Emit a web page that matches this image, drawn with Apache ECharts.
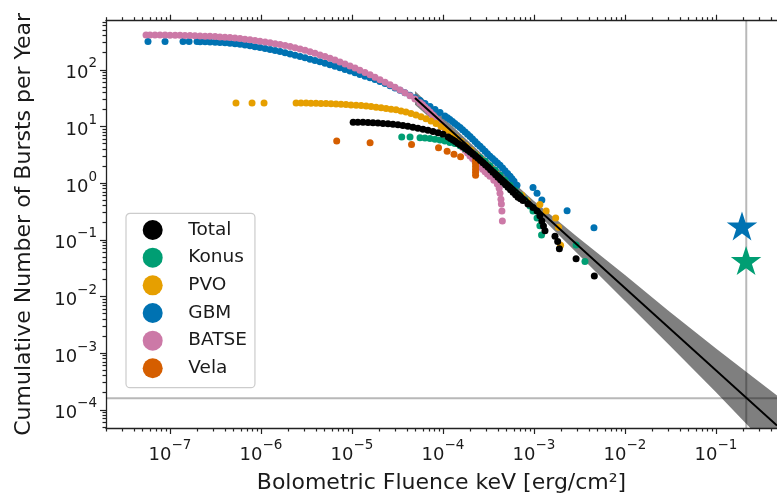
<!DOCTYPE html>
<html><head><meta charset="utf-8">
<script src="https://cdn.jsdelivr.net/npm/echarts@6/dist/echarts.min.js"></script>
<style>html,body{margin:0;padding:0;background:#fff}#c{width:777px;height:499px}</style>
</head><body><div id="c"></div>
<script>
// ---------------- data ----------------
const xMin = 1.98e-8, xMax = 0.468, yMin = 4.77e-5, yMax = 734;
const xMajorTicks = [1e-7, 1e-6, 1e-5, 1e-4, 1e-3, 1e-2, 1e-1];
const yMajorTicks = [1e-4, 1e-3, 1e-2, 1e-1, 1, 10, 100];
const legendNames = ['Total', 'Konus', 'PVO', 'GBM', 'BATSE', 'Vela'];

const batseX = [5.45e-8,6.03e-8,6.84e-8,7.77e-8,8.82e-8,1.00e-7,1.14e-7,1.29e-7,1.46e-7,1.66e-7,1.88e-7,2.14e-7,2.43e-7,2.75e-7,3.13e-7,3.54e-7,4.02e-7,4.56e-7,5.18e-7,5.88e-7,6.67e-7,7.57e-7,8.59e-7,9.75e-7,1.11e-6,1.26e-6,1.43e-6,1.62e-6,1.84e-6,2.09e-6,2.37e-6,2.69e-6,3.05e-6,3.46e-6,3.92e-6,4.45e-6,5.05e-6,5.73e-6,6.50e-6,7.38e-6,8.38e-6,9.51e-6,1.08e-5,1.22e-5,1.39e-5,1.58e-5,1.79e-5,2.03e-5,2.31e-5,2.62e-5,2.97e-5,3.37e-5,3.82e-5,4.34e-5,4.92e-5,5.59e-5,6.34e-5,7.20e-5,8.17e-5,9.27e-5,1.05e-4,1.19e-4,1.35e-4,1.54e-4,1.75e-4,1.98e-4,2.25e-4,2.55e-4,2.90e-4,3.28e-4,3.62e-4,3.95e-4,4.14e-4,4.23e-4,4.33e-4,4.38e-4,4.44e-4,4.49e-4,
  5.96e-5,6.76e-5,7.67e-5,8.71e-5,9.88e-5,1.12e-4,1.27e-4,1.44e-4,1.64e-4,1.86e-4,2.11e-4,2.39e-4,2.72e-4,3.08e-4];
const batseY = [412,412,412,410,410,408,406,405,403,401,398,395,392,389,386,380,376,370,362,355,347,339,329,320,310,300,289,279,267,256,244,232,220,207,195,183,171,159,148,137,126,116,107,98,89.5,81.7,73.9,66.8,60.3,54.6,49.0,43.9,39.2,34.7,30.4,26.3,21.9,18.0,14.4,11.5,9.2,7.4,5.9,4.7,3.8,3.0,2.4,1.94,1.59,1.32,1.12,0.96,0.81,0.665,0.52,0.426,0.321,0.214,
  24.1,19.8,16.1,12.9,10.3,8.26,6.61,5.29,4.24,3.39,2.72,2.17,1.75,1.45];

const gbmX = [5.73e-8,8.82e-8,1.39e-7,1.62e-7,1.98e-7,
  2.14e-7,2.43e-7,2.75e-7,3.13e-7,3.54e-7,4.02e-7,4.56e-7,5.18e-7,5.88e-7,6.67e-7,
  7.57e-7,8.59e-7,9.75e-7,1.11e-6,1.26e-6,1.43e-6,1.62e-6,1.84e-6,2.09e-6,2.37e-6,
  2.69e-6,3.05e-6,3.46e-6,3.92e-6,4.45e-6,5.05e-6,5.73e-6,6.50e-6,7.38e-6,8.38e-6,
  9.51e-6,1.08e-5,1.22e-5,1.39e-5,1.58e-5,1.79e-5,2.03e-5,2.31e-5,2.62e-5,2.97e-5,
  3.37e-5,3.82e-5,4.34e-5,4.92e-5,5.59e-5,6.34e-5,7.20e-5,8.17e-5,9.27e-5,1.05e-4,
  1.19e-4,1.35e-4,1.54e-4,1.75e-4,1.98e-4,2.25e-4,2.55e-4,2.90e-4,3.28e-4,3.73e-4,
  4.23e-4,4.80e-4,5.45e-4,6.03e-4,6.50e-4,
  9.75e-4,1.08e-3,1.22e-3,2.31e-3,4.56e-3,
  1.12e-4,1.27e-4,1.44e-4,1.64e-4,1.86e-4,2.11e-4,2.39e-4,2.72e-4,3.08e-4,3.50e-4,3.97e-4,4.51e-4,5.12e-4,5.73e-4];
const gbmY = [314,314,314,314,314,
  313,311,309,306,303,299,294,289,282,274,
  265,255,246,238,228,219,210,200,190,180,
  171,163,154,146,138,130,122,115,108,101,
  94.9,88.5,82.7,77.2,72.1,67.0,62.3,57.3,52.4,47.7,
  43.3,39.3,35.5,32.0,28.6,25.3,22.4,19.8,17.6,15.2,
  13.2,11.3,9.59,8.00,6.66,5.44,4.45,3.63,2.97,2.47,
  2.06,1.65,1.32,1.08,0.918,
  0.837,0.665,0.501,0.325,0.163,
  14.2,12.2,10.4,8.77,7.31,6.02,4.92,4.02,3.28,2.72,2.26,1.85,1.48,1.19];

const pvoX = [5.31e-7,7.97e-7,1.08e-6,
  2.43e-6,2.75e-6,3.13e-6,3.54e-6,4.02e-6,4.56e-6,5.18e-6,5.88e-6,6.67e-6,7.57e-6,
  8.59e-6,9.75e-6,1.11e-5,1.26e-5,1.43e-5,1.62e-5,1.84e-5,2.09e-5,2.37e-5,2.69e-5,
  3.05e-5,3.46e-5,3.92e-5,4.45e-5,5.05e-5,5.73e-5,6.50e-5,7.38e-5,8.38e-5,9.51e-5,
  1.08e-4,1.22e-4,1.39e-4,1.58e-4,1.79e-4,2.03e-4,2.31e-4,2.62e-4,2.97e-4,3.37e-4,
  3.82e-4,4.34e-4,4.92e-4,
  7.38e-4,8.38e-4,1.16e-3,1.36e-3,1.73e-3,1.86e-3,1.96e-3];
const pvoY = [26.0,26.0,26.0,
  26.0,25.9,25.8,25.7,25.6,25.5,25.3,25.1,24.9,24.6,
  24.3,24.0,23.6,23.3,22.9,22.4,21.9,21.3,20.8,20.2,
  19.6,18.8,17.9,16.9,15.9,14.8,13.6,12.5,11.3,9.97,
  8.66,7.52,6.39,5.44,4.54,3.78,3.15,2.63,2.19,1.83,
  1.49,1.17,0.957,
  0.613,0.491,0.418,0.321,0.242,0.166,0.0802];

const konusX = [3.52e-5,4.34e-5,5.59e-5,6.34e-5,7.20e-5,8.17e-5,9.27e-5,1.05e-4,1.19e-4,1.35e-4,1.54e-4,1.75e-4,1.98e-4,2.25e-4,2.55e-4,2.90e-4,3.28e-4,3.73e-4,4.23e-4,4.80e-4,5.45e-4,6.18e-4,7.02e-4,7.96e-4,9.04e-4,9.75e-4,1.08e-3,1.16e-3,1.21e-3,2.90e-3,3.63e-3];
const konusY = [6.53,6.53,6.32,6.22,6.10,5.95,5.78,5.55,5.23,5.02,4.54,4.02,3.56,3.15,2.79,2.42,2.02,1.69,1.38,1.12,0.918,0.750,0.613,0.501,0.393,0.321,0.242,0.177,0.122,0.0812,0.0413];

const velaX = [6.79e-6,1.58e-5,4.51e-5,8.93e-5,1.11e-4,1.32e-4,1.56e-4,2.28e-4,2.28e-4,2.28e-4,2.28e-4,2.28e-4,2.28e-4];
const velaY = [5.51,5.16,4.82,4.22,3.63,3.22,2.91,2.52,2.23,1.98,1.75,1.55,1.38];

const totalX = [1.03e-5,1.16e-5,1.32e-5,1.50e-5,1.70e-5,1.93e-5,2.19e-5,2.49e-5,2.82e-5,3.20e-5,3.63e-5,4.12e-5,4.68e-5,5.31e-5,6.03e-5,6.84e-5,7.77e-5,8.82e-5,1.00e-4,1.14e-4,1.29e-4,1.46e-4,1.66e-4,1.88e-4,2.14e-4,2.43e-4,2.75e-4,3.13e-4,3.54e-4,4.02e-4,4.56e-4,5.18e-4,5.88e-4,6.67e-4,7.57e-4,8.59e-4,9.75e-4,1.08e-3,1.16e-3,1.22e-3,1.27e-3,1.32e-3,1.70e-3,1.82e-3,1.90e-3,2.90e-3,4.60e-3,
  1.21e-4,1.37e-4,1.56e-4,1.77e-4,2.01e-4,2.28e-4,2.58e-4,2.93e-4,3.33e-4,3.78e-4,4.29e-4,4.86e-4,5.52e-4,6.27e-4,7.11e-4];
const totalY = [11.9,11.8,11.8,11.7,11.6,11.5,11.3,11.1,10.9,10.7,10.4,10.1,9.70,9.31,8.91,8.53,8.15,7.77,7.28,6.53,5.78,5.02,4.36,3.78,3.22,2.74,2.28,1.90,1.55,1.27,1.04,0.848,0.692,0.565,0.491,0.426,0.370,0.321,0.266,0.214,0.175,0.145,0.115,0.0928,0.0691,0.0461,0.0229,
  6.14,5.40,4.69,4.07,3.49,2.97,2.50,2.09,1.72,1.40,1.15,0.937,0.766,0.625,0.528];

// power-law fit and its uncertainty band
const fitX = [4.92e-5, 0.468];
const fitY = [31.8, 5.28e-5];
const bandX  = [4.92e-5, 3e-4, 1e-3, 3e-3, 1e-2, 3e-2, 0.1, 0.3, 0.468];
const bandHi = [42, 2.74, 0.481, 0.112, 0.0240, 0.0056, 0.00121, 3.09e-4, 1.79e-4];
const bandLo = [24.2, 1.90, 0.333, 0.0575, 0.00832, 0.00144, 2.03e-4, 3.24e-5, 1.56e-5];

// reference lines and the two star markers (GBM, Konus)
const refX = 0.215, refY = 1.6e-4;
const starX = [0.193, 0.214];
const starY = [0.165, 0.0405];

// ---------------- chart ----------------
const FONT = 'DejaVu Sans';
const COLORS = {Total:'#000000', Konus:'#009E73', PVO:'#E69F00', GBM:'#0072B2', BATSE:'#CC79A7', Vela:'#D55E00'};
const STAR = 'path://M100,0 L122.45,69.1 L195.11,69.1 L136.33,111.8 L158.78,180.9 L100,138.2 L41.22,180.9 L63.67,111.8 L4.89,69.1 L77.55,69.1 Z';

function minorTicks(lo, hi) {
  const out = [];
  for (let k = Math.floor(Math.log10(lo)) - 1; k <= Math.ceil(Math.log10(hi)); k++) {
    for (let m = 2; m <= 9; m++) {
      const v = m * Math.pow(10, k);
      if (v >= lo && v <= hi) out.push(v);
    }
  }
  return out;
}
const xMinor = minorTicks(xMin, xMax);
const yMinor = minorTicks(yMin, yMax);

function pow10Label(v) {
  const e = Math.round(Math.log10(v));
  return '{b|10}{s|' + (e < 0 ? '\u2212' + (-e) : String(e)) + '}';
}
const rich = {
  b: {fontFamily: FONT, fontSize: 18, lineHeight: 26, verticalAlign: 'bottom', color: '#1a1a1a'},
  s: {fontFamily: FONT, fontSize: 13.5, lineHeight: 13, verticalAlign: 'top', color: '#1a1a1a'}
};
const AX = '#222';

function xAx(pos, ticks, len, labels, line) {
  return {
    type: 'log', logBase: 10, min: xMin, max: xMax, position: pos,
    axisLine: {show: line, onZero: false, lineStyle: {color: AX, width: 1.3}},
    axisTick: {show: true, inside: false, length: len, customValues: ticks, lineStyle: {color: AX, width: 1.2}},
    axisLabel: labels ? {show: true, customValues: ticks, formatter: pow10Label, margin: 10, rich: rich} : {show: false},
    splitLine: {show: false}, minorTick: {show: false}
  };
}
function yAx(ticks, len, labels, line) {
  return {
    type: 'log', logBase: 10, min: yMin, max: yMax, position: 'left',
    axisLine: {show: line, onZero: false, lineStyle: {color: AX, width: 1.3}},
    axisTick: {show: true, inside: false, length: len, customValues: ticks, lineStyle: {color: AX, width: 1.2}},
    axisLabel: labels ? {show: true, customValues: ticks, formatter: pow10Label, margin: 9, rich: rich} : {show: false},
    splitLine: {show: false}, minorTick: {show: false}
  };
}

const xAxes = [xAx('bottom', xMajorTicks, 6, true, true), xAx('bottom', xMinor, 3.5, false, false),
               xAx('top', xMajorTicks, 6, false, true), xAx('top', xMinor, 3.5, false, false)];
Object.assign(xAxes[0], {name: 'Bolometric Fluence keV [erg/cm\u00B2]', nameLocation: 'middle', nameGap: 44,
  nameTextStyle: {fontFamily: FONT, fontSize: 22, color: '#1a1a1a'}});
const yAxes = [yAx(yMajorTicks, 6, true, true), yAx(yMinor, 3.5, false, false)];
Object.assign(yAxes[0], {name: 'Cumulative Number of Bursts per Year', nameLocation: 'middle', nameGap: 71, nameRotate: 90,
  nameTextStyle: {fontFamily: FONT, fontSize: 22, color: '#1a1a1a'}});

function zip(xs, ys) { return xs.map((x, i) => [x, ys[i]]); }
function scatter(name, xs, ys) {
  return {type: 'scatter', name: name, data: zip(xs, ys), symbol: 'circle', symbolSize: 7, z: 2,
    itemStyle: {color: COLORS[name], opacity: 1}, emphasis: {disabled: true}, silent: true};
}
function refLine(name, pts) {
  return {type: 'line', name: name, data: pts, showSymbol: false, symbol: 'none', z: 4, silent: true, clip: true,
    lineStyle: {color: 'rgba(0,0,0,0.28)', width: 2}, emphasis: {disabled: true}};
}

const option = {
  animation: false,
  textStyle: {fontFamily: FONT},
  grid: {left: 106, top: 20.7, right: 0, bottom: 69, containLabel: false},
  xAxis: xAxes,
  yAxis: yAxes,
  legend: {
    data: legendNames, orient: 'vertical', left: 126, top: 213.3,
    icon: 'circle', itemWidth: 20, itemHeight: 20, itemGap: 7.66,
    padding: [6.7, 8, 9.4, 16.7],
    backgroundColor: 'rgba(255,255,255,0.85)', borderColor: '#cccccc', borderWidth: 1.2, borderRadius: 4,
    formatter: n => '{t|' + n + '}',
    textStyle: {rich: {t: {fontFamily: FONT, fontSize: 18.5, lineHeight: 20, padding: [0, 0, 0, 20.6], color: '#1a1a1a'}}}
  },
  series: [
    {type: 'custom', name: 'band', z: 1, silent: true, clip: true,
      data: [[bandX[0], bandHi[0]]],
      renderItem: function (params, api) {
        const pts = [];
        for (let i = 0; i < bandX.length; i++) pts.push(api.coord([bandX[i], bandHi[i]]));
        for (let i = bandX.length - 1; i >= 0; i--) pts.push(api.coord([bandX[i], bandLo[i]]));
        const cs = params.coordSys;
        return {type: 'polygon', shape: {points: pts}, style: {fill: 'rgba(0,0,0,0.5)'},
          clipPath: {type: 'rect', shape: {x: cs.x, y: cs.y, width: cs.width, height: cs.height}}};
      }},
    scatter('GBM', gbmX, gbmY),
    scatter('BATSE', batseX, batseY),
    scatter('PVO', pvoX, pvoY),
    scatter('Konus', konusX, konusY),
    scatter('Vela', velaX, velaY),
    scatter('Total', totalX, totalY),
    {type: 'line', name: 'fit', data: zip(fitX, fitY), showSymbol: false, symbol: 'none', z: 3, silent: true,
      lineStyle: {color: '#000', width: 2}, clip: true, emphasis: {disabled: true}},
    refLine('refH', [[xMin, refY], [xMax, refY]]),
    refLine('refV', [[refX, yMin], [refX, yMax]]),
    {type: 'scatter', name: 'stars', z: 5, silent: true, symbol: STAR, symbolSize: [30.5, 29], symbolOffset: [0, -1.5],
      data: zip(starX, starY).map((v, i) => ({value: v, itemStyle: {color: i === 0 ? COLORS.GBM : COLORS.Konus, opacity: 1}}))}
  ]
};
const chart = echarts.init(document.getElementById('c'), null, {renderer: 'canvas'});
chart.setOption(option);
</script>
</body></html>
